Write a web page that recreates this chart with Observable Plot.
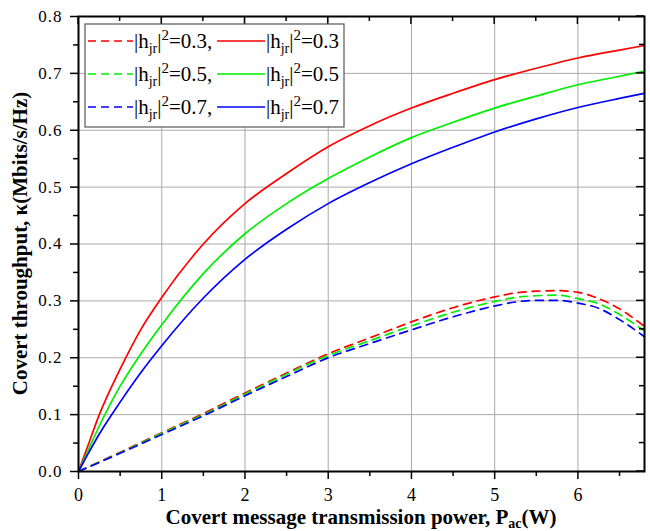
<!DOCTYPE html>
<html><head><meta charset="utf-8">
<script src="https://cdn.jsdelivr.net/npm/d3@7"></script>
<script src="https://cdn.jsdelivr.net/npm/@observablehq/plot@0.6"></script>
<style>
body{margin:0;background:#fff}
#chart{width:650px;height:531px}
#chart svg text, #chart svg tspan { font-family: "Liberation Serif", "Times New Roman", serif !important; }
#chart svg g.yt text { letter-spacing: 1px; }
</style>
</head><body><div id="chart"></div>
<script>
// ---- data ----
const gains = ["0.3", "0.5", "0.7"];
const colors = ["#ff0000", "#00ee00", "#0000ff"];
const xSolid = [0, 0.1, 0.25, 0.5, 0.75, 1, 1.5, 2, 2.5, 3, 3.5, 4, 4.5, 5, 5.5, 6, 6.5, 6.8];
const solid03 = [0, 0.04, 0.10, 0.18, 0.25, 0.306, 0.40, 0.471, 0.524, 0.571, 0.608, 0.639, 0.665, 0.689, 0.709, 0.727, 0.741, 0.749];
const solid05 = [0, 0.032, 0.08, 0.15, 0.207, 0.258, 0.348, 0.418, 0.471, 0.515, 0.553, 0.587, 0.614, 0.639, 0.660, 0.680, 0.695, 0.704];
const solid07 = [0, 0.027, 0.066, 0.122, 0.174, 0.221, 0.305, 0.373, 0.426, 0.471, 0.508, 0.541, 0.570, 0.597, 0.620, 0.640, 0.656, 0.665];
const xDashed = [0, 0.5, 1, 1.5, 2, 2.5, 3, 3.5, 4, 4.5, 5, 5.25, 5.5, 5.75, 6, 6.25, 6.5, 6.8];
const dashed03 = [0, 0.034, 0.068, 0.102, 0.138, 0.173, 0.207, 0.235, 0.263, 0.288, 0.307, 0.314, 0.317, 0.318, 0.315, 0.304, 0.286, 0.255];
const dashed05 = [0, 0.033, 0.067, 0.100, 0.136, 0.171, 0.204, 0.230, 0.256, 0.280, 0.299, 0.306, 0.309, 0.310, 0.304, 0.295, 0.276, 0.247];
const dashed07 = [0, 0.032, 0.065, 0.098, 0.133, 0.167, 0.200, 0.225, 0.249, 0.272, 0.291, 0.298, 0.301, 0.301, 0.296, 0.287, 0.267, 0.237];
const xTicks = [0, 1, 2, 3, 4, 5, 6];
const xMinor = [0.5, 1.5, 2.5, 3.5, 4.5, 5.5, 6.5];
const yTicks = [0, 0.1, 0.2, 0.3, 0.4, 0.5, 0.6, 0.7, 0.8];
const yMinor = [0.05, 0.15, 0.25, 0.35, 0.45, 0.55, 0.65, 0.75];
const xTitle = "Covert message transmission power, P";
const xTitleSub = "ac";
const xTitleEnd = "(W)";
const yTitle = "Covert throughput, κ(Mbits/s/Hz)";

// ---- build table ----
const solidSets = [solid03, solid05, solid07];
const dashedSets = [dashed03, dashed05, dashed07];
const solidRows = [], dashedRows = [];
gains.forEach((g, i) => {
  solidSets[i].forEach((v, j) => solidRows.push({x: xSolid[j], y: v, g}));
  dashedSets[i].forEach((v, j) => dashedRows.push({x: xDashed[j], y: v, g}));
});

const W = 650, H = 531, mL = 78, mR = 6, mT = 16, mB = 60;

const plot = Plot.plot({
  width: W, height: H,
  marginLeft: mL, marginRight: mR, marginTop: mT, marginBottom: mB,
  style: {fontFamily: "'Liberation Serif', serif", fontSize: "17px", color: "#000", background: "#fff"},
  x: {domain: [0, 6.8]},
  y: {domain: [0, 0.8]},
  color: {domain: gains, range: colors},
  marks: [
    Plot.gridX(xTicks.filter(d => d > 0), {stroke: "#aaa", strokeOpacity: 1, strokeWidth: 1}),
    Plot.gridY(yTicks.filter(d => d > 0 && d < 0.8), {stroke: "#aaa", strokeOpacity: 1, strokeWidth: 1}),
    Plot.line(solidRows, {x: "x", y: "y", z: "g", stroke: "g", curve: "monotone-x", strokeWidth: 1.7}),
    Plot.line(dashedRows, {x: "x", y: "y", z: "g", stroke: "g", curve: "monotone-x", strokeWidth: 1.7, strokeDasharray: "8,6"}),
    Plot.axisX(xTicks, {tickSize: 8, tickPadding: 9, strokeWidth: 1.5, fontSize: 18, tickFormat: d => String(d), label: null}),
    Plot.axisX(xMinor, {tickSize: 5, strokeWidth: 1.5, tickFormat: () => "", label: null}),
    Plot.axisY(yTicks, {tickSize: 8, tickPadding: 8, strokeWidth: 1.5, fontSize: 17, className: "yt", tickFormat: d3.format(".1f"), label: null}),
    Plot.axisY(yMinor, {tickSize: 5, strokeWidth: 1.5, tickFormat: () => "", label: null}),
    Plot.frame({stroke: "#000", strokeWidth: 2})
  ]
});
document.getElementById("chart").appendChild(plot);

const sx = plot.scale("x"), sy = plot.scale("y");
const svg = d3.select(plot);
const right = W - mR;

// inward ticks on top and right edges
const tg = svg.append("g").attr("stroke", "#000").attr("stroke-width", 1.5);
xTicks.forEach(d => tg.append("line").attr("x1", sx.apply(d)).attr("x2", sx.apply(d)).attr("y1", mT).attr("y2", mT + 8));
xMinor.forEach(d => tg.append("line").attr("x1", sx.apply(d)).attr("x2", sx.apply(d)).attr("y1", mT).attr("y2", mT + 5));
yTicks.forEach(d => tg.append("line").attr("y1", sy.apply(d)).attr("y2", sy.apply(d)).attr("x1", right).attr("x2", right - 8));
yMinor.forEach(d => tg.append("line").attr("y1", sy.apply(d)).attr("y2", sy.apply(d)).attr("x1", right).attr("x2", right - 5));

// axis titles
const xt = svg.append("text")
  .attr("x", (mL + right) / 2).attr("y", H - 7)
  .attr("text-anchor", "middle")
  .attr("font-weight", "bold").attr("font-size", 21).attr("fill", "#000");
xt.append("tspan").text(xTitle);
xt.append("tspan").attr("font-size", 14).attr("dy", 4).text(xTitleSub);
xt.append("tspan").attr("dy", -4).text(xTitleEnd);

svg.append("text")
  .attr("transform", `translate(27,${(mT + H - mB) / 2}) rotate(-90)`)
  .attr("text-anchor", "middle")
  .attr("font-weight", "bold").attr("font-size", 21).attr("fill", "#000")
  .text(yTitle);

// legend
const lg = svg.append("g").attr("font-size", 21).attr("fill", "#000").attr("text-anchor", "start");
lg.append("rect").attr("x", 85).attr("y", 24).attr("width", 259).attr("height", 103)
  .attr("fill", "#fff").attr("stroke", "#555").attr("stroke-width", 1.2);
function label(x, y, g, comma) {
  const t = lg.append("text").attr("x", x).attr("y", y + 7).attr("text-anchor", "start");
  t.append("tspan").text("|h");
  t.append("tspan").attr("font-size", 14).attr("dy", 5).text("jr");
  t.append("tspan").attr("dy", -5).text("|");
  t.append("tspan").attr("font-size", 15).attr("dy", -8).text("2");
  t.append("tspan").attr("dy", 8).text("=" + g + (comma ? "," : ""));
}
gains.forEach((g, i) => {
  const y = 41 + i * 33;
  lg.append("line").attr("x1", 88).attr("x2", 133).attr("y1", y).attr("y2", y)
    .attr("stroke", colors[i]).attr("stroke-width", 1.7).attr("stroke-dasharray", "8,5");
  label(134, y, g, true);
  lg.append("line").attr("x1", 217).attr("x2", 265).attr("y1", y).attr("y2", y)
    .attr("stroke", colors[i]).attr("stroke-width", 1.7);
  label(266, y, g, false);
});
</script>
</body></html>
